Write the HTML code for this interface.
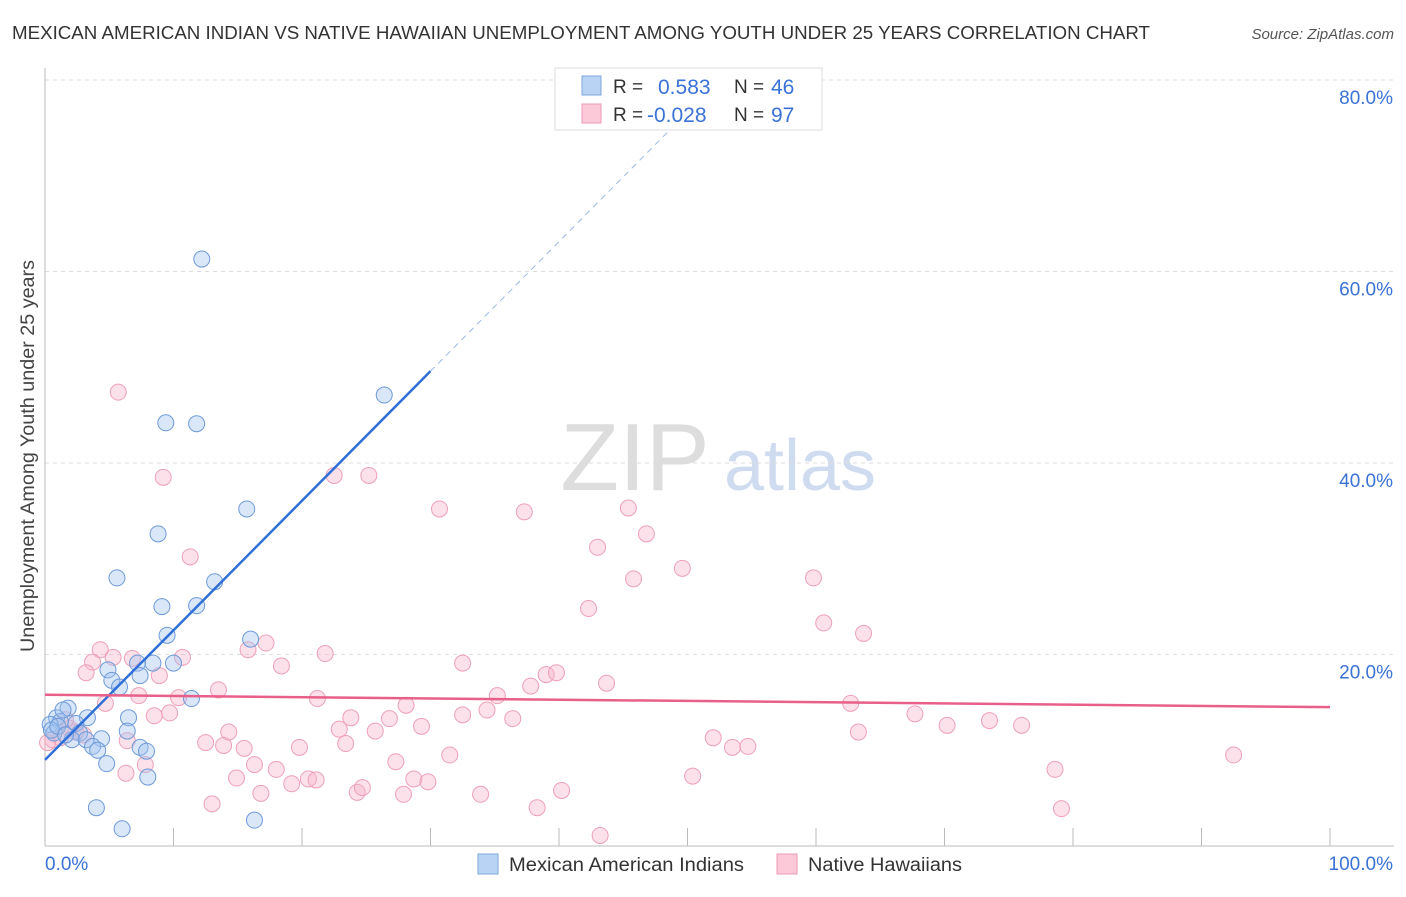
<!DOCTYPE html>
<html><head><meta charset="utf-8">
<style>
body{margin:0;background:#fff;font-family:"Liberation Sans",sans-serif;}
svg text{font-family:"Liberation Sans",sans-serif;}
</style></head>
<body>
<svg id="chart" width="1406" height="892" xmlns="http://www.w3.org/2000/svg">
<text x="12" y="39" font-size="18" fill="#333" textLength="1138" lengthAdjust="spacingAndGlyphs">MEXICAN AMERICAN INDIAN VS NATIVE HAWAIIAN UNEMPLOYMENT AMONG YOUTH UNDER 25 YEARS CORRELATION CHART</text>
<text x="1394" y="39" font-size="15" fill="#555" font-style="italic" text-anchor="end">Source: ZipAtlas.com</text>
<text x="34" y="456" font-size="19" fill="#444" text-anchor="middle" textLength="392" lengthAdjust="spacingAndGlyphs" transform="rotate(-90 34 456)">Unemployment Among Youth under 25 years</text>
<g>
<text x="635" y="490" font-size="96" fill="#ddd" font-family="Liberation Serif" text-anchor="middle">ZIP</text>
<text x="800" y="490" font-size="72" fill="#cfdcf0" text-anchor="middle">atlas</text>
</g>
<g id="grid"></g>
<g id="axes"></g>
<g id="marks"></g>
<g id="trends"></g>
<g>
<rect x="555" y="68" width="267" height="62" fill="#fff" stroke="#ddd"/>
<rect x="582" y="76" width="19" height="19" fill="#b9d3f5" stroke="#7fa6de"/>
<rect x="582" y="104" width="19" height="19" fill="#fbc9d8" stroke="#ee9ab4"/>
<text x="613" y="93" font-size="19" fill="#333">R = </text><text x="658" y="94" font-size="21" fill="#3a72d6">0.583</text>
<text x="734" y="93" font-size="19" fill="#333">N = </text><text x="771" y="94" font-size="21" fill="#3a72d6">46</text>
<text x="613" y="121" font-size="19" fill="#333">R = </text><text x="647" y="122" font-size="21" fill="#3a72d6">-0.028</text>
<text x="734" y="121" font-size="19" fill="#333">N = </text><text x="771" y="122" font-size="21" fill="#3a72d6">97</text>
</g>
<g>
<rect x="478" y="854" width="20" height="20" fill="#b9d3f5" stroke="#7fa6de"/>
<text x="509" y="871" font-size="19" fill="#333" textLength="235" lengthAdjust="spacingAndGlyphs">Mexican American Indians</text>
<rect x="777" y="854" width="20" height="20" fill="#fbc9d8" stroke="#ee9ab4"/>
<text x="808" y="871" font-size="19" fill="#333" textLength="154" lengthAdjust="spacingAndGlyphs">Native Hawaiians</text>
</g>
</svg>
<script>
const yTicks=[20,40,60,80];
const yTickLabels=["20.0%","40.0%","60.0%","80.0%"];
const xTicks=[0,10,20,30,40,50,60,70,80,90,100];
const xEndLabels=["0.0%","100.0%"];
const blueX=[12.2,26.4,9.4,11.8,15.7,8.8,5.6,13.2,9.1,11.8,9.5,16.0,7.2,8.4,10.0,4.9,5.2,7.4,5.8,11.4,1.8,0.9,3.3,1.2,2.4,6.5,0.4,0.7,2.7,6.4,4.4,2.1,3.2,3.7,4.1,7.4,7.9,4.8,8.0,4.0,6.0,16.3,1.4,0.5,1.0,1.6];
const blueY=[61.3,47.1,44.2,44.1,35.2,32.6,28.0,27.6,25.0,25.1,22.0,21.6,19.1,19.1,19.1,18.4,17.3,17.8,16.6,15.4,14.4,13.4,13.4,13.0,12.8,13.4,12.7,11.8,11.8,12.0,11.2,11.1,11.1,10.4,10.0,10.3,9.9,8.6,7.2,4.0,1.8,2.7,14.2,12.1,12.5,11.6];
const pinkX=[5.7,9.2,22.5,25.2,30.7,37.3,45.4,11.3,43.0,46.8,49.6,45.8,59.8,42.3,60.6,63.7,17.2,15.8,4.3,5.3,6.8,10.7,3.7,21.8,32.5,18.4,8.9,3.2,39.0,39.8,37.8,43.7,13.5,7.3,10.4,21.2,35.2,4.7,62.7,28.1,34.4,32.5,8.5,9.7,23.8,26.8,36.4,67.7,73.5,76.0,70.2,22.9,25.7,29.3,14.3,63.3,2.4,1.2,52.0,53.5,54.7,12.5,13.9,15.5,19.8,23.4,31.5,6.4,27.3,18.0,16.3,7.8,14.9,19.2,20.5,21.1,28.7,29.8,6.3,50.4,78.6,92.5,16.8,13.0,24.3,24.7,27.9,33.9,38.3,40.2,43.2,79.1,0.6,0.2,1.9,1.6,3.0];
const pinkY=[47.4,38.5,38.7,38.7,35.2,34.9,35.3,30.2,31.2,32.6,29.0,27.9,28.0,24.8,23.3,22.2,21.2,20.5,20.5,19.7,19.6,19.7,19.2,20.1,19.1,18.8,17.8,18.1,17.9,18.1,16.7,17.0,16.3,15.7,15.5,15.4,15.7,14.9,14.9,14.7,14.2,13.7,13.6,13.9,13.4,13.3,13.3,13.8,13.1,12.6,12.6,12.2,12.0,12.5,11.9,11.9,11.9,11.3,11.3,10.3,10.4,10.8,10.5,10.2,10.3,10.7,9.5,11.0,8.8,8.0,8.5,8.5,7.1,6.5,7.0,6.9,7.0,6.7,7.6,7.3,8.0,9.5,5.5,4.4,5.6,6.1,5.4,5.4,4.0,5.8,1.1,3.9,11.1,10.8,12.3,13.2,11.6];
const blueTrend=[9.0,1.353];   // intercept, slope
const pinkTrend=[15.8,-0.013];
const NS="http://www.w3.org/2000/svg";
const sx=v=>45+v*12.85, sy=v=>846-v*9.575;
function mk(tag,attrs,parent){const e=document.createElementNS(NS,tag);for(const k in attrs)e.setAttribute(k,attrs[k]);document.getElementById(parent).appendChild(e);return e;}
yTicks.forEach((t,i)=>{
 const g=mk('line',{x1:45,x2:1394,y1:sy(t),y2:sy(t),stroke:'#ddd','stroke-dasharray':'4,4'},'grid');
 
 
 const l=mk('text',{x:1393,y:sy(t)+24,'font-size':19,fill:'#3a72d6','text-anchor':'end'},'axes');l.textContent=yTickLabels[i];
 
 
});
const ax=mk('line',{x1:45,x2:45,y1:68,y2:846,stroke:'#bbb'},'axes');


const bx=mk('line',{x1:45,x2:1394,y1:846,y2:846,stroke:'#bbb'},'axes');


xTicks.forEach(t=>{const e=mk('line',{x1:sx(t),x2:sx(t),y1:828,y2:846,stroke:'#bbb'},'axes');
 
 });
const xl0=mk('text',{x:45,y:870,'font-size':19,fill:'#3a72d6'},'axes');xl0.textContent=xEndLabels[0];


const xl1=mk('text',{x:1393,y:870,'font-size':19,fill:'#3a72d6','text-anchor':'end'},'axes');xl1.textContent=xEndLabels[1];


pinkX.forEach((x,i)=>{const c=mk('circle',{cx:sx(x),cy:sy(pinkY[i]),r:8,fill:'rgba(248,180,202,0.4)',stroke:'#eea0b8','stroke-width':1},'marks');
 
 });
blueX.forEach((x,i)=>{const c=mk('circle',{cx:sx(x),cy:sy(blueY[i]),r:8,fill:'rgba(160,196,240,0.4)',stroke:'#6f9ad8','stroke-width':1},'marks');
 
 });
const bt=mk('line',{x1:sx(0),y1:sy(blueTrend[0]),x2:sx(30),y2:sy(blueTrend[0]+blueTrend[1]*30),stroke:'#2f6fd8','stroke-width':2.5},'trends');


const bd=mk('line',{x1:sx(30),y1:sy(blueTrend[0]+blueTrend[1]*30),x2:sx(50.2),y2:sy(blueTrend[0]+blueTrend[1]*50.2),stroke:'#9bb8e4','stroke-width':1,'stroke-dasharray':'6,5'},'trends');


const pt=mk('line',{x1:sx(0),y1:sy(pinkTrend[0]),x2:sx(100),y2:sy(pinkTrend[0]+pinkTrend[1]*100),stroke:'#e8608a','stroke-width':2.5},'trends');


</script>
</body></html>
